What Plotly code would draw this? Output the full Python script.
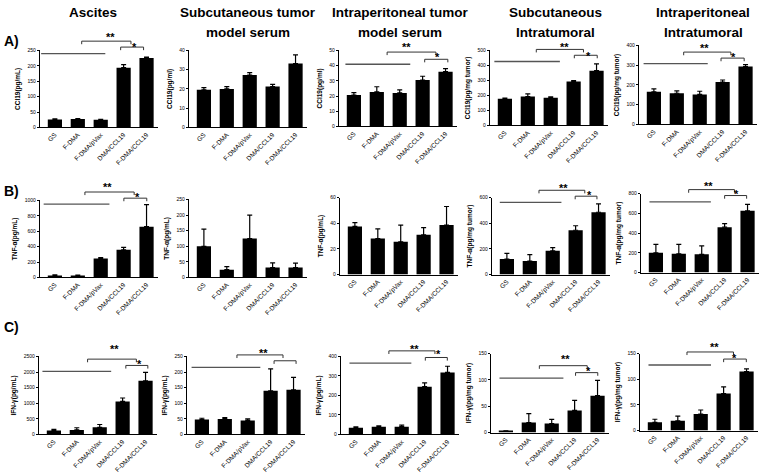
import plotly.graph_objects as go
from plotly.subplots import make_subplots

groups = ["GS", "F-DMA", "F-DMA/pVax", "DMA/CCL19", "F-DMA/CCL19"]

# ---- Row A: CCl19 ----
ccl19_ascites = [26, 27, 25, 194, 225]
ccl19_ascites_err = [2, 1.5, 1.5, 10, 3]
ccl19_sc_serum = [19.5, 20.0, 27.2, 21.2, 33.2]
ccl19_sc_serum_err = [1.2, 1.2, 1.2, 1.2, 4.5]
ccl19_ip_serum = [20.6, 22.7, 22.0, 30.5, 36.0]
ccl19_ip_serum_err = [1.6, 3.4, 2.0, 2.5, 2.0]
ccl19_sc_tumor = [178, 192, 185, 293, 365]
ccl19_sc_tumor_err = [4, 18, 6, 5, 45]
ccl19_ip_tumor = [165, 158, 152, 215, 293]
ccl19_ip_tumor_err = [15, 12, 16, 10, 10]

# ---- Row B: TNF-alpha ----
tnf_ascites = [25, 25, 245, 360, 660]
tnf_ascites_err = [8, 5, 12, 30, 285]
tnf_sc_serum = [100, 25, 125, 32, 32]
tnf_sc_serum_err = [55, 10, 75, 15, 14]
tnf_ip_serum = [37.5, 28.0, 25.5, 31.0, 38.5]
tnf_ip_serum_err = [3.0, 7.5, 13.0, 5.5, 14.5]
tnf_sc_tumor = [120, 105, 185, 345, 485]
tnf_sc_tumor_err = [45, 50, 25, 35, 65]
tnf_ip_tumor = [200, 190, 185, 460, 625]
tnf_ip_tumor_err = [85, 95, 85, 35, 65]

# ---- Row C: IFN-gamma ----
ifn_ascites = [125, 145, 230, 1060, 1720]
ifn_ascites_err = [40, 70, 90, 110, 270]
ifn_sc_serum = [48, 50, 45, 140, 143]
ifn_sc_serum_err = [4, 4, 5, 70, 40]
ifn_ip_serum = [35, 40, 40, 245, 318]
ifn_ip_serum_err = [4, 4, 8, 20, 32]
ifn_sc_tumor = [2, 19, 17, 42, 70]
ifn_sc_tumor_err = [1, 17, 8, 19, 29]
ifn_ip_tumor = [16, 19, 32, 72, 115]
ifn_ip_tumor_err = [6, 9, 8, 13, 5]

# y tick values
ticks_a = [[0, 50, 100, 150, 200, 250], [0, 10, 20, 30, 40], [0, 10, 20, 30, 40, 50],
           [0, 100, 200, 300, 400, 500], [0, 100, 200, 300, 400]]
ticks_b = [[0, 200, 400, 600, 800, 1000], [0, 50, 100, 150, 200, 250], [0, 20, 40, 60],
           [0, 200, 400, 600], [0, 200, 400, 600, 800]]
ticks_c = [[0, 500, 1000, 1500, 2000, 2500], [0, 50, 100, 150, 200, 250], [0, 100, 200, 300, 400],
           [0, 50, 100, 150], [0, 50, 100, 150]]

ytitles_a = ["CCl19(pg/mL)", "CCl19(pg/ml)", "CCl19(pg/ml)", "CCl19(pg/mg tumor)", "CCl19(pg/mg tumor)"]
ytitles_b = ["TNF-α(pg/mL)", "TNF-α(pg/mL)", "TNF-α(pg/mL)", "TNF-α(pg/mg tumor)", "TNF-α(pg/mg tumor)"]
ytitles_c = ["IFN-γ(pg/mL)", "IFN-γ(pg/mL)", "IFN-γ(pg/mL)", "IFN-γ(pg/mg tumor)", "IFN-γ(pg/mg tumor)"]

col_titles = [["Ascites"], ["Subcutaneous tumor", "model serum"], ["Intraperitoneal tumor", "model serum"],
              ["Subcutaneous", "Intratumoral"], ["Intraperitoneal", "Intratumoral"]]
row_labels = ["A)", "B)", "C)"]

values = [
    [ccl19_ascites, ccl19_sc_serum, ccl19_ip_serum, ccl19_sc_tumor, ccl19_ip_tumor],
    [tnf_ascites, tnf_sc_serum, tnf_ip_serum, tnf_sc_tumor, tnf_ip_tumor],
    [ifn_ascites, ifn_sc_serum, ifn_ip_serum, ifn_sc_tumor, ifn_ip_tumor],
]
errors = [
    [ccl19_ascites_err, ccl19_sc_serum_err, ccl19_ip_serum_err, ccl19_sc_tumor_err, ccl19_ip_tumor_err],
    [tnf_ascites_err, tnf_sc_serum_err, tnf_ip_serum_err, tnf_sc_tumor_err, tnf_ip_tumor_err],
    [ifn_ascites_err, ifn_sc_serum_err, ifn_ip_serum_err, ifn_sc_tumor_err, ifn_ip_tumor_err],
]
ticks = [ticks_a, ticks_b, ticks_c]
ytitles = [ytitles_a, ytitles_b, ytitles_c]

# ---- layout geometry (pixels) ----
W, H = 762, 475
col_x = [[40, 189, 339, 490, 639], [40, 189, 340, 492, 641], [39, 187, 341, 491, 640]]
plot_w = 118
row_y = [
    [(48, 126), (48, 126), (48, 125), (48, 124), (43, 123)],
    [(200, 278), (199, 278), (197, 275), (197, 275), (193, 273)],
    [(358, 437), (358, 437), (358, 437), (355, 435), (355, 433)],
]
XMIN, XMAX = -0.65, 4.5

# significance marks: long line, big bracket, small bracket (x0, x1, ydomain), '**' pos, '*' pos
sig = {
    (0, 0): dict(long=(-0.6, 2.2, 0.957), big=(1.17, 3.32, 1.12), small=(2.87, 3.87, 1.043), s2=(2.43, 1.21), s1=(3.47, 1.086)),
    (0, 2): dict(long=(-0.37, 2.46, 0.818), big=(1.45, 3.58, 0.978), small=(3.09, 4.1, 0.883), s2=(2.31, 1.078), s1=(3.66, 0.948)),
    (0, 3): dict(long=(-0.46, 2.4, 0.852), big=(1.37, 3.43, 1.013), small=(3.03, 4.03, 0.935), s2=(2.59, 1.09), s1=(3.63, 0.97)),
    (0, 4): dict(long=(-0.45, 2.35, 0.769), big=(1.3, 3.36, 0.916), small=(2.93, 3.94, 0.84), s2=(2.2, 1.0), s1=(3.48, 0.887)),
    (1, 0): dict(long=(-0.49, 2.38, 0.953), big=(1.31, 3.46, 1.11), small=(3.01, 4.01, 1.03), s2=(2.28, 1.21), s1=(3.6, 1.09)),
    (1, 3): dict(long=(-0.31, 2.38, 0.936), big=(1.4, 3.4, 1.094), small=(2.98, 3.93, 1.017), s2=(2.49, 1.16), s1=(3.6, 1.077)),
    (1, 4): dict(long=(-0.28, 2.4, 0.896), big=(1.43, 3.43, 1.05), small=(3.0, 3.96, 0.975), s2=(2.3, 1.13), s1=(3.5, 1.03)),
    (2, 0): dict(long=(-0.5, 2.5, 0.81), big=(1.47, 3.6, 0.966), small=(3.14, 4.1, 0.885), s2=(2.66, 1.128), s1=(3.74, 0.936)),
    (2, 1): dict(long=(-0.45, 2.55, 0.86), big=(1.53, 3.54, 1.02), small=(3.15, 4.11, 0.945), s2=(2.7, 1.085), s1=None),
    (2, 2): dict(long=(-0.28, 2.42, 0.915), big=(1.44, 3.45, 1.072), small=(3.03, 3.99, 0.987), s2=(2.54, 1.14), s1=(3.59, 1.064)),
    (2, 3): dict(long=(-0.28, 2.51, 0.6875), big=(1.46, 3.55, 0.846), small=(3.04, 4.01, 0.758), s2=(2.58, 0.967), s1=(3.62, 0.82)),
    (2, 4): dict(long=(-0.28, 2.45, 0.851), big=(1.4, 3.43, 1.02), small=(3.0, 3.99, 0.928), s2=(2.59, 1.128), s1=(3.48, 0.98)),
}

FONT = "Arial, Liberation Sans, sans-serif"

fig = make_subplots(rows=3, cols=5)

def xd(v):
    return (v - XMIN) / (XMAX - XMIN)

shapes = []
annotations = []
idx = 0
for r in range(3):
    for c in range(5):
        idx += 1
        fig.add_trace(go.Bar(
            x=list(range(len(groups))), y=values[r][c],
            marker=dict(color="black", line=dict(width=0)),
            width=0.62,
            error_y=dict(type="data", array=errors[r][c], arrayminus=[0] * 5, symmetric=False,
                         color="black", thickness=1.2, width=2.5),
            showlegend=False,
        ), row=r + 1, col=c + 1)
        xk = "xaxis" if idx == 1 else f"xaxis{idx}"
        yk = "yaxis" if idx == 1 else f"yaxis{idx}"
        x0 = col_x[r][c]
        top, bot = row_y[r][c]
        tv = ticks[r][c]
        fig.layout[xk].update(
            domain=[x0 / W, (x0 + plot_w) / W], range=[XMIN, XMAX],
            tickvals=list(range(len(groups))), ticktext=groups, tickangle=-45,
            tickfont=dict(family=FONT, size=6.5, color="black"),
            showline=True, linecolor="black", linewidth=1.2, ticks="", showgrid=False, zeroline=False,
        )
        fig.layout[yk].update(
            domain=[1 - bot / H, 1 - top / H], range=[0, tv[-1]],
            tickvals=tv, tickfont=dict(family=FONT, size=5, color="black"),
            showline=True, linecolor="black", linewidth=1.2, ticks="outside", ticklen=2, tickwidth=1,
            tickcolor="black", showgrid=False, zeroline=False,
            title=dict(text="<b>" + ytitles[r][c] + "</b>", font=dict(family=FONT, size=6.5, color="black"), standoff=6),
        )
        s = sig.get((r, c))
        if s:
            xr = "x domain" if idx == 1 else f"x{idx} domain"
            yr = "y domain" if idx == 1 else f"y{idx} domain"
            a, b, h = s["long"]
            shapes.append(dict(type="line", xref=xr, yref=yr, x0=xd(a), x1=xd(b), y0=h, y1=h,
                               line=dict(color="#555", width=1.3)))
            for key in ("big", "small"):
                a, b, h = s[key]
                t = 0.04
                shapes.append(dict(type="line", xref=xr, yref=yr, x0=xd(a), x1=xd(b), y0=h, y1=h,
                                   line=dict(color="#333", width=1)))
                shapes.append(dict(type="line", xref=xr, yref=yr, x0=xd(a), x1=xd(a), y0=h - t, y1=h,
                                   line=dict(color="#333", width=1)))
                shapes.append(dict(type="line", xref=xr, yref=yr, x0=xd(b), x1=xd(b), y0=h - t, y1=h,
                                   line=dict(color="#333", width=1)))
            for key, txt in (("s2", "**"), ("s1", "*")):
                if s[key] is not None:
                    px, py = s[key]
                    annotations.append(dict(text="<b>" + txt + "</b>", xref=xr, yref=yr, x=xd(px), y=py,
                                            xanchor="center", yanchor="middle", yshift=-3, showarrow=False,
                                            font=dict(family=FONT, size=11, color="black")))

# column titles
title_cx = [93, 248, 400, 555, 703]
for c, lines in enumerate(col_titles):
    for i, line in enumerate(lines):
        annotations.append(dict(text="<b>" + line + "</b>", xref="paper", yref="paper",
                                x=title_cx[c] / W, y=1 - (10 + 20 * i) / H, xanchor="center", yanchor="middle",
                                showarrow=False, font=dict(family=FONT, size=13.5, color="black")))

# row labels
row_label_y = [38, 190, 328]
for r, lab in enumerate(row_labels):
    annotations.append(dict(text="<b>" + lab + "</b>", xref="paper", yref="paper", x=2 / W,
                            y=1 - row_label_y[r] / H, xanchor="left", yanchor="middle", showarrow=False,
                            font=dict(family=FONT, size=14, color="black")))

fig.update_layout(
    width=W, height=H, margin=dict(l=0, r=0, t=0, b=0),
    paper_bgcolor="white", plot_bgcolor="white",
    shapes=shapes, annotations=annotations, bargap=0.3,
    font=dict(family=FONT, color="black"),
)

fig.write_html("out.html", config={"displayModeBar": False},
               post_script="document.body.style.margin='0';document.body.style.overflow='hidden';")
